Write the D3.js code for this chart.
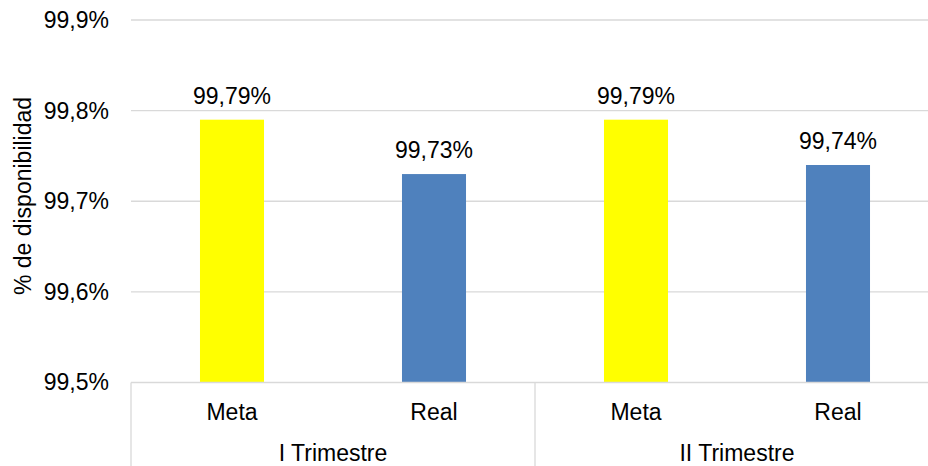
<!DOCTYPE html>
<html><head><meta charset="utf-8">
<script src="https://cdn.jsdelivr.net/npm/d3@7"></script>
<style>body{margin:0;background:#fff}svg{display:block;font-family:"Liberation Sans",Arial,sans-serif}</style>
</head><body><svg id="c" width="928" height="466"></svg>
<script>
const groups = ["I Trimestre", "II Trimestre"];
const categories = ["Meta", "Real", "Meta", "Real"];
const groupOf = [0, 0, 1, 1];
const values = [99.79, 99.73, 99.79, 99.74];
const labels = ["99,79%", "99,73%", "99,79%", "99,74%"];
const colors = ["#FFFF00", "#4F81BD", "#FFFF00", "#4F81BD"];
const yTicks = [99.5, 99.6, 99.7, 99.8, 99.9];
const yTickLabels = ["99,5%", "99,6%", "99,7%", "99,8%", "99,9%"];

(function () {
const FS = 23;
const svg = d3.select("#c");
const pL = 131, pR = 939, pT = 20, pB = 382.5;
const x = d3.scaleBand().domain(d3.range(categories.length)).range([pL, pR]).paddingInner(0.683).paddingOuter(0.3415);
const y = d3.scaleLinear().domain([99.5, 99.9]).range([pB, pT]);

// gridlines
svg.append("g").selectAll("line").data(yTicks.slice(1)).join("line")
  .attr("x1", pL).attr("x2", 928).attr("y1", d => y(d)).attr("y2", d => y(d))
  .attr("stroke", "#d9d9d9").attr("stroke-width", 1.3);

// y axis labels
const yAxis = d3.axisLeft(y).tickValues(yTicks).tickSize(0).tickPadding(0)
  .tickFormat((d, i) => yTickLabels[i]);
const ya = svg.append("g").attr("transform", `translate(109,0)`).call(yAxis);
ya.select(".domain").remove();
ya.attr("font-size", FS).attr("font-family", "Liberation Sans, Arial, sans-serif");
ya.selectAll("text").attr("fill", "#000");

// bars
svg.append("g").selectAll("rect").data(values).join("rect")
  .attr("x", (d, i) => x(i)).attr("width", x.bandwidth())
  .attr("y", d => y(d)).attr("height", d => y(99.5) - y(d))
  .attr("fill", (d, i) => colors[i]);

// data labels
svg.append("g").selectAll("text").data(values).join("text")
  .attr("x", (d, i) => x(i) + x.bandwidth() / 2).attr("y", d => y(d) - 16)
  .attr("text-anchor", "middle").attr("font-size", FS).attr("fill", "#000")
  .text((d, i) => labels[i]);

// x axis baseline
svg.append("line").attr("x1", pL).attr("x2", 928).attr("y1", pB).attr("y2", pB)
  .attr("stroke", "#d9d9d9").attr("stroke-width", 1.3);

// category axis
const step = x.step();
const xa = svg.append("g").attr("transform", `translate(0,${pB})`)
  .call(d3.axisBottom(x).tickSize(0).tickPadding(0).tickFormat(i => categories[i]));
xa.select(".domain").remove();
xa.attr("font-size", FS).attr("font-family", "Liberation Sans, Arial, sans-serif");
xa.selectAll("text").attr("fill", "#000").attr("dy", 0).attr("y", 37.5);

// group separators
const seps = [pL, pL + step * 2, pR];
svg.append("g").selectAll("line").data(seps).join("line")
  .attr("x1", d => d).attr("x2", d => d).attr("y1", pB).attr("y2", 466)
  .attr("stroke", "#d9d9d9").attr("stroke-width", 1.3);

// group labels
svg.append("g").selectAll("text").data(groups).join("text")
  .attr("x", (d, g) => {
    const idx = d3.range(categories.length).filter(i => groupOf[i] === g);
    return (x(idx[0]) + x(idx[idx.length - 1]) + x.bandwidth()) / 2;
  })
  .attr("y", 461).attr("text-anchor", "middle").attr("font-size", FS).attr("fill", "#000")
  .text(d => d);

// y title
svg.append("text").attr("transform", "translate(31,196) rotate(-90)")
  .attr("text-anchor", "middle").attr("font-size", FS).attr("fill", "#000")
  .text("% de disponibilidad");
})();
</script></body></html>
